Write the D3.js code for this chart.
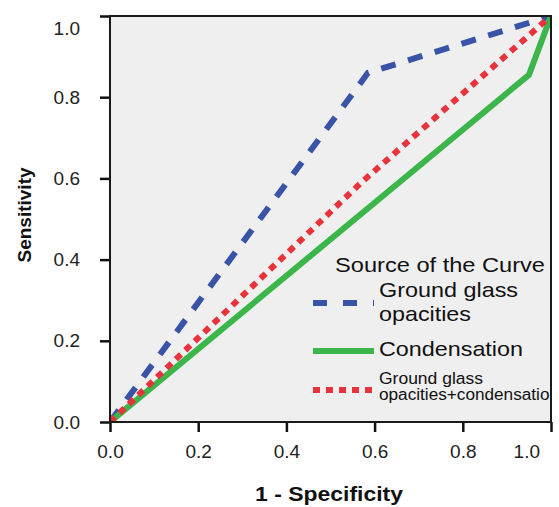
<!DOCTYPE html>
<html>
<head>
<meta charset="utf-8">
<script src="https://cdn.jsdelivr.net/npm/d3@7"></script>
<style>
  body { margin: 0; background: #fff; }
  svg { display: block; font-family: "Liberation Sans", Arial, sans-serif; }
</style>
</head>
<body>
<svg id="chart" width="559" height="507"></svg>
<script>
// ROC points (1 - specificity, sensitivity)
var ggoX = [0, 0.585, 1];
var ggoY = [0, 0.86, 1];
var condX = [0, 0.95, 1];
var condY = [0, 0.855, 1];
var combX = [0, 0.57, 1];
var combY = [0, 0.59, 1];

var tickValues = [0, 0.2, 0.4, 0.6, 0.8, 1.0];
var legendTitle = "Source of the Curve";

var svg = d3.select("#chart"),
    width = +svg.attr("width"),
    height = +svg.attr("height");

var plot = {left: 110, right: 551, top: 16, bottom: 422};

var x = d3.scaleLinear().domain([0, 1]).range([plot.left, plot.right]);
var y = d3.scaleLinear().domain([0, 1]).range([plot.bottom, plot.top]);

svg.append("defs").append("clipPath").attr("id", "plotclip")
  .append("rect")
    .attr("x", plot.left).attr("y", plot.top)
    .attr("width", plot.right - plot.left).attr("height", plot.bottom - plot.top);

// plot background
svg.append("rect")
    .attr("x", plot.left).attr("y", plot.top)
    .attr("width", plot.right - plot.left).attr("height", plot.bottom - plot.top)
    .attr("fill", "#efefef");

function zipPts(xs, ys) {
  return xs.map(function(v, i) { return [v, ys[i]]; });
}

var series = [
  {name: "Ground glass opacities", pts: zipPts(ggoX, ggoY), color: "#3953a6", dash: "15,13", legendDash: "14,16"},
  {name: "Condensation", pts: zipPts(condX, condY), color: "#3cb64a", dash: null, legendDash: null},
  {name: "Ground glass opacities+condensation", pts: zipPts(combX, combY), color: "#e8333c", dash: "7,6", legendDash: "7,6"}
];

var line = d3.line().x(function(d) { return x(d[0]); }).y(function(d) { return y(d[1]); });

var lines = svg.append("g").attr("clip-path", "url(#plotclip)");
series.forEach(function(s) {
  lines.append("path")
      .datum(s.pts)
      .attr("d", line)
      .attr("fill", "none")
      .attr("stroke", s.color)
      .attr("stroke-width", 6)
      .attr("stroke-dasharray", s.dash);
});

// legend (sits inside the plot, text is cut by the frame)
var leg = svg.append("g").attr("clip-path", "url(#plotclip)");
leg.append("text")
    .attr("x", 335).attr("y", 272)
    .attr("font-size", 21).attr("fill", "#111")
    .attr("textLength", 210).attr("lengthAdjust", "spacingAndGlyphs")
    .text(legendTitle);

var legendRows = [
  {y: 303, lines: [{t: "Ground glass", y: 297, len: 139}, {t: "opacities", y: 321, len: 92}], size: 21},
  {y: 351, lines: [{t: "Condensation", y: 356, len: 144}], size: 21},
  {y: 390, lines: [{t: "Ground glass", y: 384, len: 104}, {t: "opacities+condensation", y: 400, len: 180}], size: 16}
];

legendRows.forEach(function(row, i) {
  var s = series[i];
  leg.append("line")
      .attr("x1", 313).attr("x2", 374)
      .attr("y1", row.y).attr("y2", row.y)
      .attr("stroke", s.color)
      .attr("stroke-width", 6)
      .attr("stroke-dasharray", s.legendDash);
  row.lines.forEach(function(l) {
    leg.append("text")
        .attr("x", 379).attr("y", l.y)
        .attr("font-size", row.size).attr("fill", "#111")
        .attr("textLength", l.len).attr("lengthAdjust", "spacingAndGlyphs")
        .text(l.t);
  });
});

// axes
var xAxis = d3.axisBottom(x).tickValues(tickValues).tickFormat(d3.format(".1f"))
    .tickSize(10).tickSizeOuter(0).tickPadding(13);
var yAxis = d3.axisLeft(y).tickValues(tickValues).tickFormat(d3.format(".1f"))
    .tickSize(10).tickSizeOuter(0).tickPadding(20);

var gx = svg.append("g").attr("transform", "translate(0," + plot.bottom + ")").call(xAxis);
var gy = svg.append("g").attr("transform", "translate(" + plot.left + ",0)").call(yAxis);

[gx, gy].forEach(function(g) {
  g.select(".domain").remove();
  g.selectAll(".tick line").attr("stroke", "#111").attr("stroke-width", 2.5);
  g.selectAll(".tick text")
      .attr("font-size", 19)
      .attr("fill", "#222")
      .attr("font-family", "Liberation Sans, Arial, sans-serif");
});

// keep end labels inside the picture
gy.selectAll(".tick text").each(function() {
  var b = this.getBBox();
  var tr = this.parentNode.transform.baseVal.consolidate().matrix;
  var top = tr.f + b.y;
  if (top < 18) d3.select(this).attr("y", 18 - top);
});
gx.selectAll(".tick text").each(function() {
  var b = this.getBBox();
  var tr = this.parentNode.transform.baseVal.consolidate().matrix;
  var right = tr.e + b.x + b.width;
  if (right > 540) d3.select(this).attr("x", 540 - right);
});

// frame
svg.append("rect")
    .attr("x", plot.left).attr("y", plot.top)
    .attr("width", plot.right - plot.left).attr("height", plot.bottom - plot.top)
    .attr("fill", "none")
    .attr("stroke", "#1a1a1a")
    .attr("stroke-width", 2);

// axis titles
svg.append("text")
    .attr("x", 329).attr("y", 501)
    .attr("text-anchor", "middle")
    .attr("font-size", 20).attr("font-weight", "bold").attr("fill", "#111")
    .attr("textLength", 148).attr("lengthAdjust", "spacingAndGlyphs")
    .text("1 - Specificity");

svg.append("text")
    .attr("transform", "translate(31,215) rotate(-90)")
    .attr("text-anchor", "middle")
    .attr("font-size", 19).attr("font-weight", "bold").attr("fill", "#111")
    .text("Sensitivity");
</script>
</body>
</html>
